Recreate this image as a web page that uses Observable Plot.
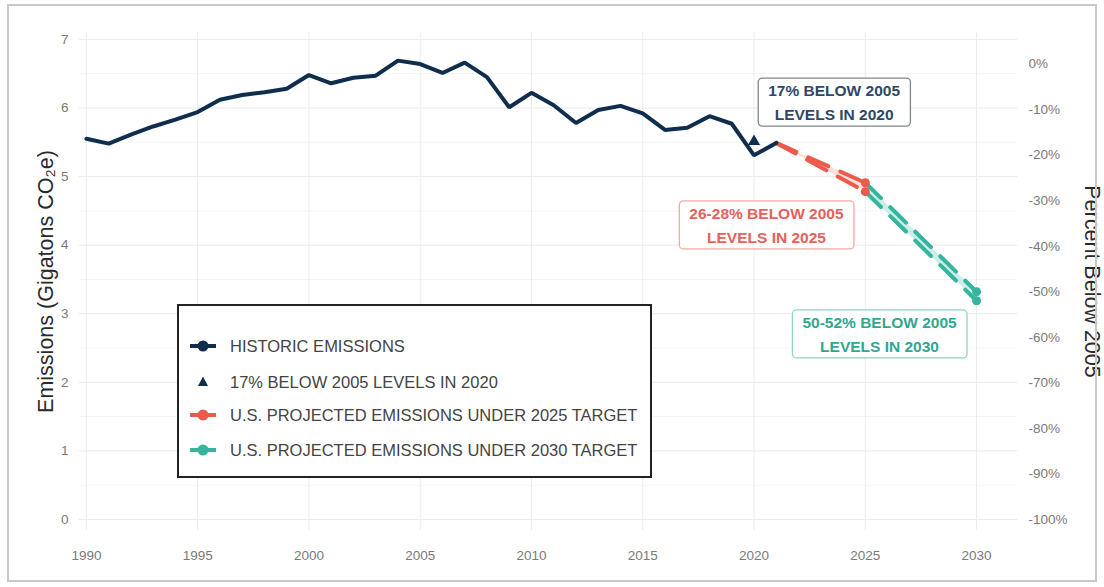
<!DOCTYPE html>
<html>
<head>
<meta charset="utf-8">
<script src="https://cdn.jsdelivr.net/npm/d3@7"></script>
<script src="https://cdn.jsdelivr.net/npm/@observablehq/plot@0.6"></script>
<style>
  html, body { margin: 0; padding: 0; background: #fff; }
  body { width: 1104px; height: 587px; position: relative; overflow: hidden; font-family: "Liberation Sans", Arial, sans-serif; }
  #frame { position: absolute; left: 7px; top: 4px; width: 1090px; height: 578px; border: 2px solid #c9c9c9; box-sizing: border-box; pointer-events: none; }
  #chart { position: absolute; left: 0; top: 0; }
  #legend { position: absolute; left: 177px; top: 304px; width: 475px; height: 174px; border: 2px solid #222; background: #fff; box-sizing: border-box; }
  .lrow { position: absolute; left: 0; height: 20px; }
  .lrow svg { position: absolute; left: 8px; top: 0; }
  .lrow span { position: absolute; left: 51px; top: 0px; white-space: nowrap; font-size: 16.5px; color: #444; line-height: 20px; }
</style>
</head>
<body>
<div id="chart"></div>
<div id="legend"></div>
<div id="frame"></div>
<script>
// ---- data ----
const years = [1990,1991,1992,1993,1994,1995,1996,1997,1998,1999,2000,2001,2002,2003,2004,2005,2006,2007,2008,2009,2010,2011,2012,2013,2014,2015,2016,2017,2018,2019,2020,2021];
const emissions = [5.55,5.48,5.61,5.73,5.83,5.94,6.12,6.19,6.23,6.28,6.48,6.36,6.44,6.47,6.69,6.64,6.51,6.66,6.45,6.01,6.22,6.04,5.78,5.97,6.03,5.92,5.68,5.71,5.88,5.77,5.31,5.49];

const targetYears = [2020];
const targetValues = [5.51];

const proj2025Years = [2021, 2025];
const proj2025High = [5.49, 4.91];
const proj2025Low = [5.49, 4.78];

const proj2030Years = [2025, 2030];
const proj2030High = [4.91, 3.32];
const proj2030Low = [4.78, 3.19];

const xTicks = [1990,1995,2000,2005,2010,2015,2020,2025,2030];
const yTicks = [0,1,2,3,4,5,6,7];
const yMinorTicks = [0.5,1.5,2.5,3.5,4.5,5.5,6.5];
const pctTicks = [0,-10,-20,-30,-40,-50,-60,-70,-80,-90,-100];
const base2005 = emissions[years.indexOf(2005)];

const annotTexts = ["17% BELOW 2005\nLEVELS IN 2020", "26-28% BELOW 2005\nLEVELS IN 2025", "50-52% BELOW 2005\nLEVELS IN 2030"];
const annotYears = [2023.6, 2020.56, 2025.64];
const annotValues = [6.11, 4.32, 2.73];

const legendLabels = ["HISTORIC EMISSIONS", "17% BELOW 2005 LEVELS IN 2020", "U.S. PROJECTED EMISSIONS UNDER 2025 TARGET", "U.S. PROJECTED EMISSIONS UNDER 2030 TARGET"];

// ---- styles ----
const navy = "#0f2d4c";
const red = "#ec5a4c";
const teal = "#35b59d";
const annotColors = ["#2c4866", "#e8605a", "#2fa892"];
const annotBorders = ["#7f868e", "#f2aaa4", "#8fd3c5"];

// ---- tables ----
const hist = years.map((y, i) => ({year: y, value: emissions[i]}));
const target = targetYears.map((y, i) => ({year: y, value: targetValues[i]}));
const p25 = proj2025Years.map((y, i) => ({year: y, high: proj2025High[i], low: proj2025Low[i]}));
const p30 = proj2030Years.map((y, i) => ({year: y, high: proj2030High[i], low: proj2030Low[i]}));
const p25end = p25.slice(1);
const p30end = p30.slice(1);
const annots = annotTexts.map((t, i) => ({text: t, year: annotYears[i], value: annotValues[i], color: annotColors[i]}));
const pctPos = pctTicks.map(p => base2005 * (1 + p / 100));

const dash = "22,13";

const plot = Plot.plot({
  width: 1104,
  height: 587,
  marginLeft: 79,
  marginRight: 87,
  marginTop: 32,
  marginBottom: 57,
  style: {fontFamily: "'Liberation Sans', Arial, sans-serif", background: "transparent"},
  x: {domain: [1989.69, 2031.84], label: null},
  y: {domain: [-0.16, 7.1], label: null},
  marks: [
    Plot.gridY(yMinorTicks, {stroke: "#f4f4f4", strokeOpacity: 1}),
    Plot.gridY(yTicks, {stroke: "#e9e9e9", strokeOpacity: 1}),
    Plot.gridX(xTicks, {stroke: "#ececec", strokeOpacity: 1}),
    Plot.axisY(yTicks, {anchor: "left", tickSize: 0, tickPadding: 11, fontSize: 13.5, fill: "#7a7a7a", label: null, tickFormat: d => String(d)}),
    Plot.axisY(pctPos, {anchor: "right", tickSize: 0, tickPadding: 11, fontSize: 13.5, fill: "#7a7a7a", label: null,
      tickFormat: d => Math.round((d / base2005 - 1) * 100) + "%"}),
    Plot.axisX(xTicks, {anchor: "bottom", tickSize: 0, tickPadding: 20, fontSize: 13.5, fill: "#7a7a7a", label: null, tickFormat: d => String(d)}),
    // projections 2025
    Plot.areaY(p25, {x: "year", y1: "low", y2: "high", fill: "#fbe0dc"}),
    Plot.line(p25, {x: "year", y: "high", stroke: red, strokeWidth: 4, strokeDasharray: dash}),
    Plot.line(p25, {x: "year", y: "low", stroke: red, strokeWidth: 4, strokeDasharray: dash}),
    // projections 2030
    Plot.areaY(p30, {x: "year", y1: "low", y2: "high", fill: "#cdeee6"}),
    Plot.line(p30, {x: "year", y: "high", stroke: teal, strokeWidth: 4, strokeDasharray: dash}),
    Plot.line(p30, {x: "year", y: "low", stroke: teal, strokeWidth: 4, strokeDasharray: dash}),
    // historic
    Plot.line(hist, {x: "year", y: "value", stroke: navy, strokeWidth: 4, strokeLinejoin: "miter"}),
    Plot.dot(target, {x: "year", y: "value", symbol: "triangle", fill: navy, r: 4.5}),
    Plot.dot(p30end, {x: "year", y: "high", fill: teal, r: 4.5}),
    Plot.dot(p30end, {x: "year", y: "low", fill: teal, r: 4.5}),
    Plot.dot(p25end, {x: "year", y: "high", fill: red, r: 4.5}),
    Plot.dot(p25end, {x: "year", y: "low", fill: red, r: 4.5}),
    // annotations
    Plot.text(annots, {x: "year", y: "value", text: "text", fill: "color", fontWeight: "bold", fontSize: 15.5, lineHeight: 1.55, textAnchor: "middle"}),
    // axis titles
    Plot.text(["Emissions (Gigatons CO₂e)"], {frameAnchor: "left", dx: -33, rotate: -90, textAnchor: "middle", fontSize: 21.5, fill: "#2a2a2a", text: d => d}),
    Plot.text(["Percent Below 2005"], {frameAnchor: "right", dx: 74, rotate: 90, textAnchor: "middle", fontSize: 21.5, fill: "#2a2a2a", text: d => d})
  ]
});

document.getElementById("chart").append(plot);

// boxes behind annotation labels
const svgNS = "http://www.w3.org/2000/svg";
Array.from(plot.querySelectorAll("text")).forEach(t => {
  const idx = annotTexts.findIndex(a => t.textContent.replace(/\s+/g, "") === a.replace(/\s+/g, ""));
  if (idx < 0) return;
  const b = t.getBBox();
  const r = document.createElementNS(svgNS, "rect");
  r.setAttribute("x", b.x - 10);
  r.setAttribute("y", b.y - 4);
  r.setAttribute("width", b.width + 20);
  r.setAttribute("height", b.height + 7);
  r.setAttribute("rx", 4);
  r.setAttribute("fill", "#fff");
  r.setAttribute("stroke", annotBorders[idx]);
  r.setAttribute("stroke-width", 1.3);
  const tr = t.getAttribute("transform");
  if (tr) r.setAttribute("transform", tr);
  t.parentNode.insertBefore(r, t);
});

// legend
const legendColors = [navy, navy, red, teal];
const legendRowTops = [30, 66, 99, 134];
const legend = document.getElementById("legend");
legendLabels.forEach((label, i) => {
  const row = document.createElement("div");
  row.className = "lrow";
  row.style.top = legendRowTops[i] + "px";
  const c = legendColors[i];
  let sw;
  if (i === 1) {
    sw = `<svg width="32" height="20"><path d="M16,4.5 L21,14 L11,14 Z" fill="${c}"/></svg>`;
  } else {
    sw = `<svg width="32" height="20"><line x1="3" y1="10" x2="29" y2="10" stroke="${c}" stroke-width="4"/><circle cx="16" cy="10" r="5.5" fill="${c}"/></svg>`;
  }
  row.innerHTML = sw + `<span>${label}</span>`;
  legend.append(row);
});
</script>
</body>
</html>
